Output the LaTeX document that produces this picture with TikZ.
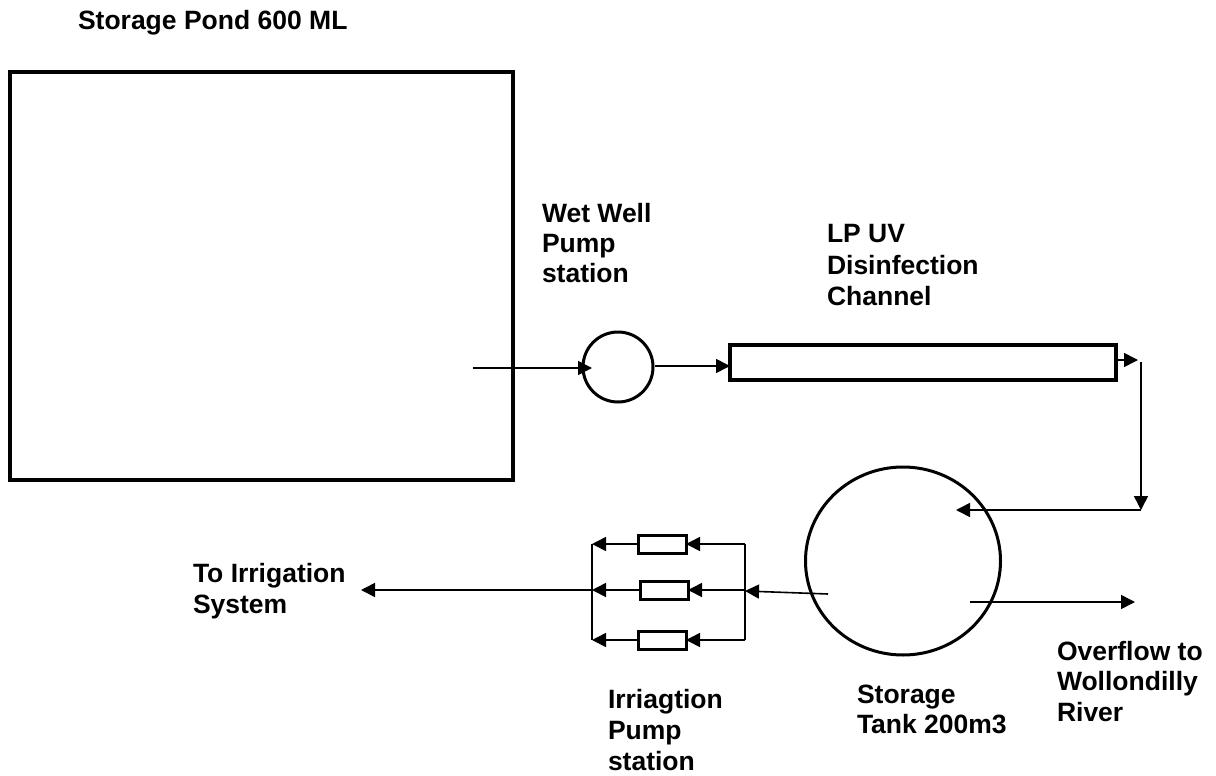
\documentclass[tikz,border=0pt]{standalone}
\usepackage{fontspec}
\setmainfont{Liberation Sans}
\usetikzlibrary{arrows.meta,shapes.geometric}
\begin{document}
\begin{tikzpicture}[x=1pt,y=-1pt,
  lbl/.style={anchor=north west,inner sep=0pt,outer sep=0pt,align=left,
    font=\bfseries\fontsize{26.5}{30.5}\selectfont},
  heavy/.style={draw,rectangle,line width=3.5pt,inner sep=0pt,outer sep=0pt,anchor=north west},
  unit/.style={draw,rectangle,line width=3pt,inner sep=0pt,outer sep=0pt,
    minimum width=48pt,minimum height=18pt},
  ring/.style={draw,circle,line width=3pt,inner sep=0pt,outer sep=0pt},
  flow/.style={line width=1.6pt,-{Triangle[length=14pt,width=14pt]}},
  pipe/.style={line width=1.6pt}
]
\useasboundingbox (0,0) rectangle (1216,776);
\fill[white] (0,0) rectangle (1216,776);

% shapes
\node[heavy,minimum width=503pt,minimum height=408pt] (pond) at (10,72) {};
\node[ring,minimum size=70pt] (well) at (618,367) {};
\node[heavy,minimum width=386pt,minimum height=35pt,line width=3.2pt] (uv) at (730,345) {};
\node[draw,ellipse,line width=3pt,inner sep=0pt,outer sep=0pt,
  minimum width=195pt,minimum height=188pt] (tank) at (903,561) {};
\node[unit] (p1) at (662,544) {};
\node[unit] (p2) at (664,590) {};
\node[unit] (p3) at (662,640) {};

% labels
\node[lbl] (tpond) at (78,10) {Storage Pond 600 ML};
\node[lbl,font=\bfseries\fontsize{26.5}{30}\selectfont] (twell) at (542,203) {Wet Well\\Pump\\station};
\node[lbl,font=\bfseries\fontsize{26.5}{31.5}\selectfont] (tuv) at (827,224.5) {LP UV\\Disinfection\\Channel};
\node[lbl,font=\bfseries\fontsize{26.5}{31}\selectfont] (tirr) at (193,563) {To Irrigation\\System};
\node[lbl,font=\bfseries\fontsize{26.5}{31}\selectfont] (tpump) at (608,689) {Irriagtion\\Pump\\station};
\node[lbl,font=\bfseries\fontsize{26.5}{30}\selectfont] (ttank) at (857,685) {Storage\\Tank 200m3};
\node[lbl,font=\bfseries\fontsize{26.5}{30.5}\selectfont] (tover) at (1057,641) {Overflow to\\Wollondilly\\River};

% coordinates for free ends and junctions
\coordinate (pin) at (473,368);
\coordinate (wtip) at (592,368);
\coordinate (uvtip) at (1138,360);
\coordinate (dtop) at (1141,362);
\coordinate (dbot) at (1141,510);
\coordinate (ttip) at (956,510);
\coordinate (ostart) at (970,602);
\coordinate (oend) at (1135,602);
\coordinate (tout) at (828,594);
\coordinate (rb) at (745,591);
\coordinate (rbt) at (745,544);
\coordinate (rbb) at (745,640);
\coordinate (lbt) at (592,544);
\coordinate (lbm) at (592,590);
\coordinate (lbb) at (592,640);
\coordinate (itip) at (361,590);

% connectors
\draw[flow] (pin) -- (wtip);
\draw[flow] (well.east) ++(2,-1) coordinate (wout) -- (uv.west |- 0,366);
\draw[flow] (uv.east |- 0,360) -- (uvtip);
\draw[flow] (dtop) -- (dbot);
\draw[flow] (dbot) -- (ttip);
\draw[flow] (ostart) -- (oend);
\draw[flow] (tout) -- (rb);
\draw[pipe] (rbt) -- (rbb);
\draw[flow] (rbt) -- (p1.east);
\draw[flow] (rb |- p2.east) -- (p2.east);
\draw[flow] (rbb) -- (p3.east);
\draw[flow] (p1.west) -- (lbt);
\draw[flow] (p2.west) -- (lbm);
\draw[flow] (p3.west) -- (lbb);
\draw[pipe] (lbt) -- (lbb);
\draw[flow] (lbm) -- (itip);
\end{tikzpicture}
\end{document}
